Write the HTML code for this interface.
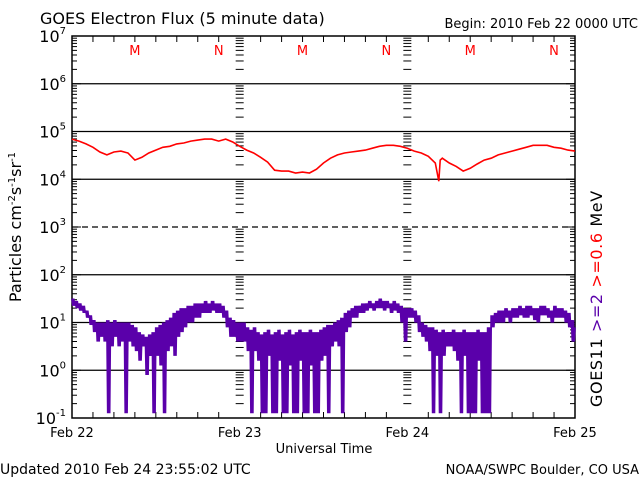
<!DOCTYPE html>
<html><head><meta charset="utf-8"><style>
html,body{margin:0;padding:0;background:#fff}
svg{display:block;font-family:"DejaVu Sans","Liberation Sans",sans-serif}
</style></head><body>
<svg id="c" width="640" height="480" viewBox="0 0 640 480" xmlns="http://www.w3.org/2000/svg">
<text x="40" y="24" font-size="16">GOES Electron Flux (5 minute data)</text>
<text x="638" y="28" font-size="13" text-anchor="end">Begin: 2010 Feb 22 0000 UTC</text>
<text x="0" y="474" font-size="14">Updated 2010 Feb 24 23:55:02 UTC</text>
<text x="639" y="474" font-size="13" text-anchor="end">NOAA/SWPC Boulder, CO USA</text>
<text x="324" y="453" font-size="13" text-anchor="middle">Universal Time</text>
<text transform="translate(21,227) rotate(-90)" font-size="16" text-anchor="middle">Particles cm<tspan dy="-6" font-size="10">-2</tspan><tspan dy="6">s</tspan><tspan dy="-6" font-size="10">-1</tspan><tspan dy="6">sr</tspan><tspan dy="-6" font-size="10">-1</tspan></text>
<text transform="translate(602,407) rotate(-90)" font-size="16" letter-spacing="0.6"><tspan fill="#000">GOES11  </tspan><tspan fill="#5a00aa">&gt;=2  </tspan><tspan fill="#ff0000">&gt;=0.6  </tspan><tspan fill="#000">MeV</tspan></text>
<g id="grid"></g><g id="ticks"></g><g id="series"></g><g id="labels"></g>
</svg>
<script>
const yDecades = [7,6,5,4,3,2,1,0,-1];
const dayLabels = ["Feb 22","Feb 23","Feb 24","Feb 25"];
const redHours = [0,1,2,3,4,5,6,7,8,9,10,11,12,13,14,15,16,17,18,19,20,21,22,23,24,25,26,27,28,29,30,31,32,33,34,35,36,37,38,39,40,41,42,43,44,45,46,47,48,49,50,51,52,52.5,52.7,53,54,55,56,57,58,59,60,61,62,63,64,65,66,67,68,69,70,71,72];
const redLog = [4.84,4.80,4.74,4.67,4.57,4.51,4.57,4.59,4.55,4.40,4.46,4.55,4.61,4.67,4.69,4.74,4.76,4.80,4.82,4.84,4.84,4.80,4.84,4.78,4.69,4.61,4.55,4.46,4.36,4.19,4.17,4.17,4.13,4.15,4.13,4.21,4.34,4.44,4.51,4.55,4.57,4.59,4.61,4.65,4.69,4.71,4.71,4.69,4.65,4.59,4.55,4.48,4.34,3.96,4.40,4.44,4.34,4.27,4.17,4.23,4.32,4.40,4.44,4.51,4.55,4.59,4.63,4.67,4.71,4.71,4.71,4.67,4.65,4.61,4.59];
const purpleHigh = [
1.5,1.45,1.4,1.35,1.25,1.15,1.05,1.0,1.0,1.0,1.05,1.0,1.05,1.0,1.0,1.0,1.0,0.95,0.9,0.8,0.75,0.7,0.75,0.8,0.9,0.95,1.0,1.05,1.1,1.2,1.25,1.3,1.3,1.35,1.35,1.4,1.4,1.4,1.45,1.4,1.45,1.4,1.4,1.35,1.25,1.1,1.05,1.0,
1.0,1.0,0.9,0.85,0.9,0.8,0.75,0.8,0.85,0.75,0.8,0.85,0.75,0.8,0.85,0.75,0.8,0.85,0.8,0.8,0.85,0.8,0.8,0.85,0.9,0.95,0.95,1.0,1.05,1.1,1.2,1.25,1.3,1.35,1.35,1.4,1.4,1.45,1.4,1.45,1.5,1.45,1.45,1.4,1.45,1.4,1.35,1.3,
1.3,1.3,1.25,1.15,1.0,0.95,0.9,0.9,0.85,0.8,0.85,0.8,0.8,0.85,0.8,0.8,0.85,0.8,0.8,0.8,0.85,0.8,0.8,0.9,1.15,1.2,1.25,1.25,1.3,1.25,1.3,1.3,1.35,1.3,1.35,1.35,1.3,1.3,1.35,1.35,1.3,1.25,1.35,1.3,1.3,1.25,1.2,1.05,0.9];
const purpleLow = [
1.35,1.3,1.25,1.2,1.1,0.95,0.8,0.6,0.7,0.6,-0.9,0.5,0.7,0.5,0.6,-0.9,0.6,0.5,0.4,0.2,0.5,-0.1,0.3,-0.9,0.3,0.1,-0.9,0.4,0.5,0.3,0.7,0.8,0.9,1.0,1.0,1.1,1.1,1.2,1.2,1.2,1.25,1.2,1.2,1.1,0.9,0.7,0.7,0.6,
0.6,0.6,0.4,-0.9,0.4,0.2,-0.9,-0.9,0.3,-0.9,-0.9,0.2,-0.9,-0.9,0.1,-0.9,-0.9,0.2,-0.9,-0.9,0.1,-0.9,-0.9,0.2,0.3,-0.9,0.5,0.6,0.5,-0.9,0.8,0.9,1.1,1.1,1.2,1.2,1.25,1.3,1.25,1.3,1.3,1.25,1.3,1.2,1.25,1.2,1.0,0.6,
1.1,1.1,1.0,0.8,0.7,0.6,0.4,-0.9,0.3,-0.9,0.3,0.5,0.5,0.4,0.2,-0.9,0.3,-0.9,-0.9,-0.9,0.2,-0.9,-0.9,-0.9,0.9,1.0,1.0,1.0,1.1,1.0,1.1,1.1,1.15,1.1,1.1,1.15,1.05,1.0,1.15,1.15,1.1,1.0,1.1,1.1,1.1,1.0,0.9,0.6,0.5];
const markerLabels = ["M","N","M","N","M","N"];
const markerHours = [9,21,33,45,57,69];

const NS="http://www.w3.org/2000/svg";
const X0=72,X1=575,Y0=36,Y1=418;
const xs=h=>X0+(X1-X0)*h/72;
const ys=l=>Y0+(7-l)*(Y1-Y0)/8;
function mk(tag,attrs,parent){const e=document.createElementNS(NS,tag);for(const k in attrs)e.setAttribute(k,attrs[k]);document.getElementById(parent).appendChild(e);return e;}

let fr=mk('rect',{x:X0,y:Y0,width:X1-X0,height:Y1-Y0,fill:'none',stroke:'#000','stroke-width':1.5},'grid');


yDecades.forEach(d=>{
  const y=ys(d);
  if(d<7&&d>-1){
    const ln=mk('line',{x1:X0,x2:X1,y1:y,y2:y,stroke:'#000','stroke-width':1.3},'grid');
    if(d===3)ln.setAttribute('stroke-dasharray','6,4');
    
    
  }
  const t=mk('text',{x:X0-6,y:y+6,'font-size':16,'text-anchor':'end'},'labels');
  
  
  t.innerHTML='10<tspan dy="-8" font-size="10">'+d+'</tspan>';
  if(d>-1){
    for(let m=2;m<=9;m++){
      const yy=ys(d-1+Math.log10(m));
      [[X0,X0+5],[X1-5,X1],[xs(24)-4,xs(24)+4],[xs(48)-4,xs(48)+4]].forEach(p=>{
        const tk=mk('line',{x1:p[0],x2:p[1],y1:yy,y2:yy,stroke:'#000','stroke-width':1},'ticks');
        
        
      });
    }
    [[X0,X0+9],[X1-9,X1]].forEach(p=>{
      const tk=mk('line',{x1:p[0],x2:p[1],y1:y,y2:y,stroke:'#000','stroke-width':1},'ticks');
      
      
    });
  }
});
for(let h=3;h<72;h+=3){
  if(h%24===0)continue;
  const x=xs(h);
  [[Y1-6,Y1],[Y0,Y0+6]].forEach(p=>{
    const tk=mk('line',{x1:x,x2:x,y1:p[0],y2:p[1],stroke:'#000','stroke-width':1},'ticks');
    
    
  });
}
dayLabels.forEach((lab,i)=>{
  const t=mk('text',{x:xs(i*24),y:437,'font-size':13,'text-anchor':'middle'},'labels');
  
  
  t.textContent=lab;
});
markerLabels.forEach((lab,i)=>{
  const t=mk('text',{x:xs(markerHours[i]),y:55,'font-size':13,'text-anchor':'middle',fill:'#ff0000'},'labels');
  
  
  t.textContent=lab;
});
let pp=[];
const n=Math.min(purpleHigh.length,purpleLow.length);
const step=72/(n-1);
const dx=(X1-X0)*step/72;
for(let i=0;i<n;i++){
  const x=xs(i*step);
  const hi=ys(purpleHigh[i]).toFixed(1), lo=ys(Math.max(purpleLow[i],-0.9)).toFixed(1);
  pp.push(x.toFixed(1)+','+hi);
  if(i<n-1){
    pp.push((x+dx*0.25).toFixed(1)+','+lo);
    pp.push((x+dx*0.5).toFixed(1)+','+hi);
    pp.push((x+dx*0.75).toFixed(1)+','+lo);
  }
}
const pl=mk('polyline',{points:pp.join(' '),fill:'none',stroke:'#5a00aa','stroke-width':1.8},'series');


let rp='';
redHours.forEach((h,i)=>{rp+=(i?' ':'')+xs(h).toFixed(1)+','+ys(redLog[i]).toFixed(1);});
const rl=mk('polyline',{points:rp,fill:'none',stroke:'#ff0000','stroke-width':1.6},'series');


</script>
</body></html>
